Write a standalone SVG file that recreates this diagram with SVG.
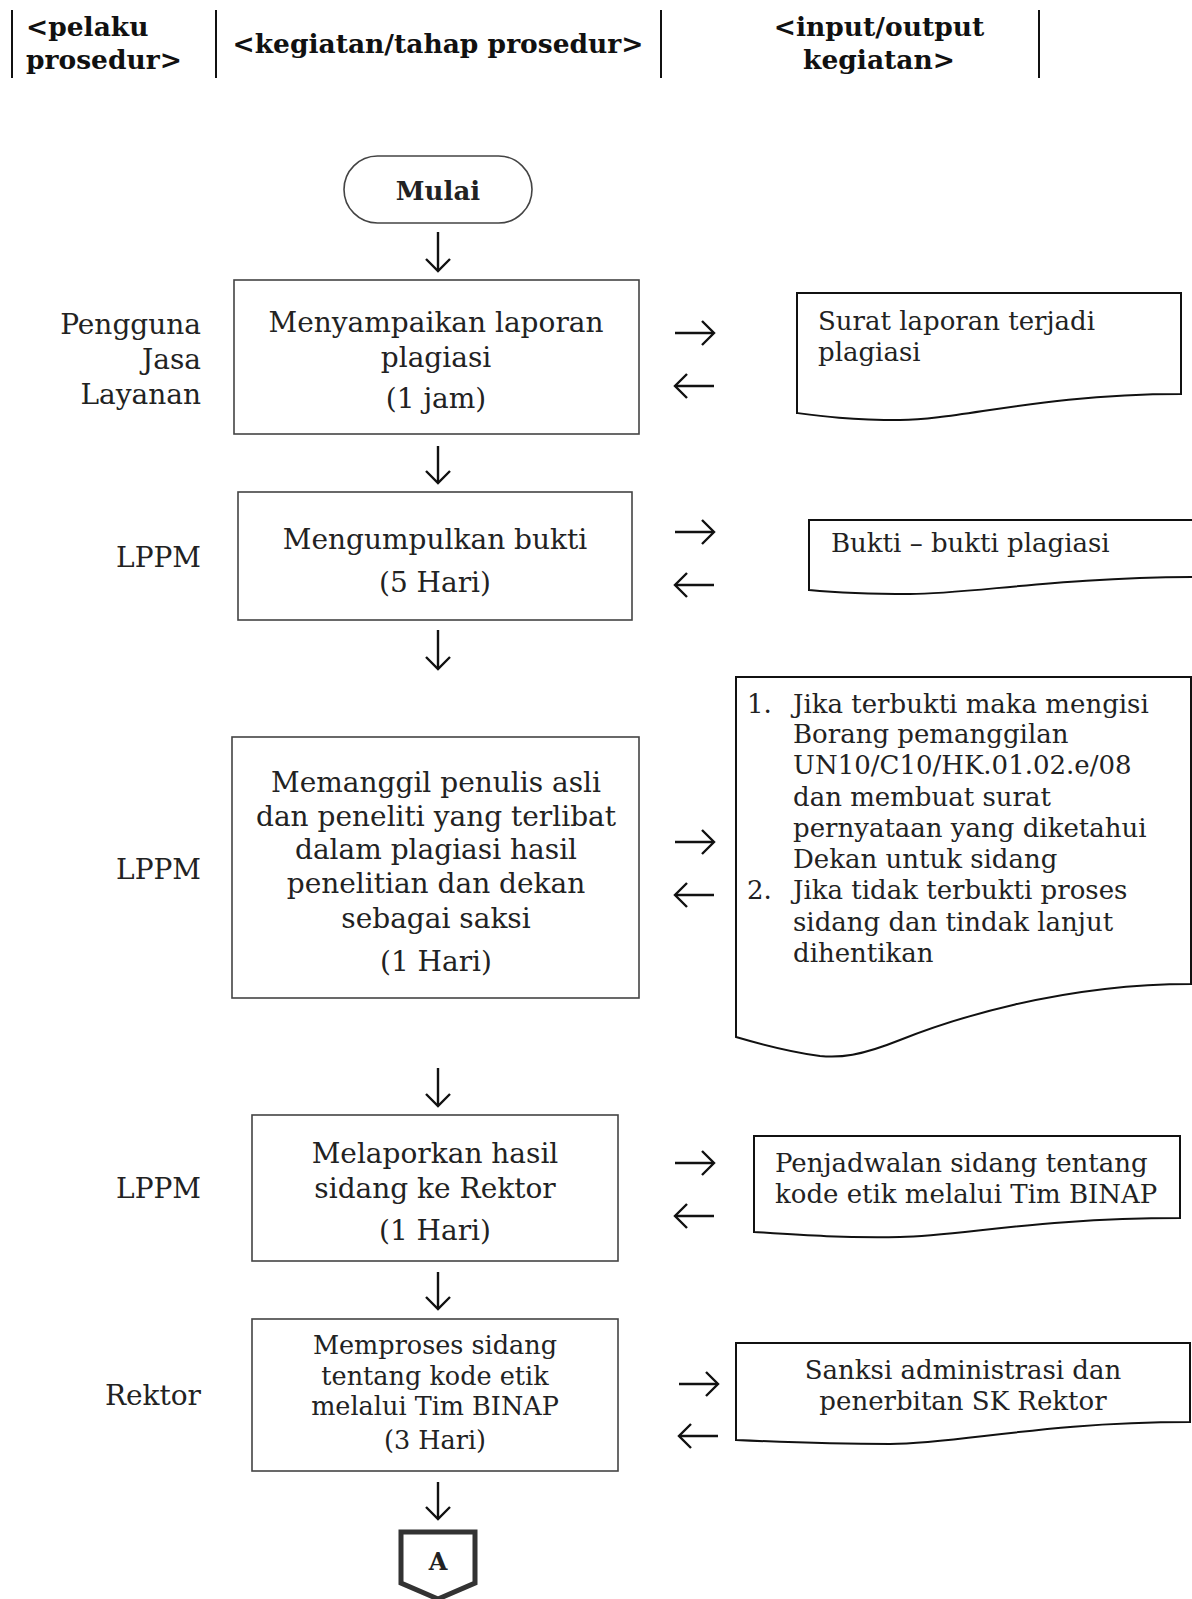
<svg xmlns="http://www.w3.org/2000/svg" width="1192" height="1599" viewBox="0 0 1192 1599">
<style>
  .hdr { font-family: "DejaVu Serif", "Liberation Serif", serif; font-weight: bold; font-size: 26.5px; fill: #111; }
  .lbl { font-family: "DejaVu Serif", "Liberation Serif", serif; font-size: 28px; fill: #222; }
  .box { fill: #fff; stroke: #444; stroke-width: 1.6; }
  .doc { fill: #fff; stroke: #111; stroke-width: 2; }
  .bt { font-family: "DejaVu Serif", "Liberation Serif", serif; font-size: 28px; fill: #222; text-anchor: middle; }
  .bt.sm { font-size: 25.5px; }
  .bt.term { font-size: 26px; font-weight: bold; }
  .bt.conn { font-size: 24px; font-weight: bold; }
  .dt { font-family: "DejaVu Serif", "Liberation Serif", serif; font-size: 26px; fill: #222; }
  .arr { stroke: #111; stroke-width: 2.4; fill: none; marker-end: url(#chev); }
  .sep { stroke: #111; stroke-width: 2; }
</style>
<defs>
  <marker id="chev" viewBox="0 0 16 28" refX="14" refY="14" markerWidth="16" markerHeight="28" markerUnits="userSpaceOnUse" orient="auto">
    <path d="M2,2 L14,14 L2,26" fill="none" stroke="#111" stroke-width="2.4"/>
  </marker>
</defs>
<rect width="1192" height="1599" fill="#fff"/>

<g id="header">
  <line class="sep" x1="12" y1="10" x2="12" y2="78"/>
  <line class="sep" x1="216" y1="10" x2="216" y2="78"/>
  <line class="sep" x1="661" y1="10" x2="661" y2="78"/>
  <line class="sep" x1="1039" y1="10" x2="1039" y2="78"/>
  <text class="hdr" x="26" y="36">&lt;pelaku</text>
  <text class="hdr" x="26" y="69">prosedur&gt;</text>
  <text class="hdr" x="438" y="53" text-anchor="middle">&lt;kegiatan/tahap prosedur&gt;</text>
  <text class="hdr" x="879" y="36" text-anchor="middle">&lt;input/output</text>
  <text class="hdr" x="879" y="69" text-anchor="middle">kegiatan&gt;</text>
</g>

<g id="actors">
  <text class="lbl" x="201" y="334" text-anchor="end">Pengguna</text>
  <text class="lbl" x="201" y="369" text-anchor="end">Jasa</text>
  <text class="lbl" x="201" y="404" text-anchor="end">Layanan</text>
  <text class="lbl" x="201" y="567" text-anchor="end">LPPM</text>
  <text class="lbl" x="201" y="879" text-anchor="end">LPPM</text>
  <text class="lbl" x="201" y="1198" text-anchor="end">LPPM</text>
  <text class="lbl" x="201" y="1405" text-anchor="end">Rektor</text>
</g>

<g id="start">
  <rect class="box" x="344" y="156" width="188" height="67" rx="33.5"/>
  <text class="bt term" x="438" y="200">Mulai</text>
</g>

<g id="step1">
  <rect class="box" x="234" y="280" width="405" height="154"/>
  <text class="bt" x="436" y="332">Menyampaikan laporan</text>
  <text class="bt" x="436" y="367">plagiasi</text>
  <text class="bt" x="436" y="408">(1 jam)</text>
</g>

<g id="step2">
  <rect class="box" x="238" y="492" width="394" height="128"/>
  <text class="bt" x="435" y="549">Mengumpulkan bukti</text>
  <text class="bt" x="435" y="592">(5 Hari)</text>
</g>

<g id="step3">
  <rect class="box" x="232" y="737" width="407" height="261"/>
  <text class="bt" x="436" y="792">Memanggil penulis asli</text>
  <text class="bt" x="436" y="826">dan peneliti yang terlibat</text>
  <text class="bt" x="436" y="859">dalam plagiasi hasil</text>
  <text class="bt" x="436" y="893">penelitian dan dekan</text>
  <text class="bt" x="436" y="928">sebagai saksi</text>
  <text class="bt" x="436" y="971">(1 Hari)</text>
</g>

<g id="step4">
  <rect class="box" x="252" y="1115" width="366" height="146"/>
  <text class="bt" x="435" y="1163">Melaporkan hasil</text>
  <text class="bt" x="435" y="1198">sidang ke Rektor</text>
  <text class="bt" x="435" y="1240">(1 Hari)</text>
</g>

<g id="step5">
  <rect class="box" x="252" y="1319" width="366" height="152"/>
  <text class="bt sm" x="435" y="1354">Memproses sidang</text>
  <text class="bt sm" x="435" y="1385">tentang kode etik</text>
  <text class="bt sm" x="435" y="1415">melalui Tim BINAP</text>
  <text class="bt sm" x="435" y="1449">(3 Hari)</text>
</g>

<g id="connectorA">
  <path d="M401,1532 H475 V1583 L438,1599 L401,1583 Z" fill="#fff" stroke="#333" stroke-width="5"/>
  <text class="bt conn" x="438" y="1570">A</text>
</g>

<g id="doc1">
  <path class="doc" d="M797,293 H1181 V394 C1040,394 960,420 900,420 C850,420 820,416 797,413 Z"/>
  <text class="dt" x="818" y="330">Surat laporan terjadi</text>
  <text class="dt" x="818" y="361">plagiasi</text>
</g>

<g id="doc2">
  <path class="doc" d="M809,520 H1200 V577 C1060,577 970,594 910,594 C860,594 830,592 809,590 Z"/>
  <text class="dt" x="831" y="552">Bukti – bukti plagiasi</text>
</g>

<g id="doc3">
  <path class="doc" d="M736,677 H1191 V984 C1060,984 950,1020 900,1040 C860,1056 840,1058 820,1056 C790,1052 760,1044 736,1037 Z"/>
  <text class="dt" x="747" y="713">1.</text>
  <text class="dt" x="793" y="713">Jika terbukti maka mengisi</text>
  <text class="dt" x="793" y="743">Borang pemanggilan</text>
  <text class="dt" x="793" y="774">UN10/C10/HK.01.02.e/08</text>
  <text class="dt" x="793" y="806">dan membuat surat</text>
  <text class="dt" x="793" y="837">pernyataan yang diketahui</text>
  <text class="dt" x="793" y="868">Dekan untuk sidang</text>
  <text class="dt" x="747" y="899">2.</text>
  <text class="dt" x="793" y="899">Jika tidak terbukti proses</text>
  <text class="dt" x="793" y="931">sidang dan tindak lanjut</text>
  <text class="dt" x="793" y="962">dihentikan</text>
</g>

<g id="doc4">
  <path class="doc" d="M754,1136 H1180 V1218 C1040,1218 960,1236 900,1237 C840,1238 800,1235 754,1232 Z"/>
  <text class="dt" x="775" y="1172">Penjadwalan sidang tentang</text>
  <text class="dt" x="775" y="1203">kode etik melalui Tim BINAP</text>
</g>

<g id="doc5">
  <path class="doc" d="M736,1343 H1190 V1422 C1040,1422 960,1444 890,1444 C830,1444 780,1442 736,1440 Z"/>
  <text class="dt" x="963" y="1379" text-anchor="middle">Sanksi administrasi dan</text>
  <text class="dt" x="963" y="1410" text-anchor="middle">penerbitan SK Rektor</text>
</g>

<g id="connectors">
  <line class="arr" x1="438" y1="232" x2="438" y2="271"/>
  <line class="arr" x1="438" y1="446" x2="438" y2="483"/>
  <line class="arr" x1="438" y1="630" x2="438" y2="669"/>
  <line class="arr" x1="438" y1="1068" x2="438" y2="1106"/>
  <line class="arr" x1="438" y1="1272" x2="438" y2="1309"/>
  <line class="arr" x1="438" y1="1482" x2="438" y2="1519"/>

  <line class="arr" x1="675" y1="333" x2="714" y2="333"/>
  <line class="arr" x1="714" y1="386" x2="675" y2="386"/>
  <line class="arr" x1="675" y1="532" x2="714" y2="532"/>
  <line class="arr" x1="714" y1="585" x2="675" y2="585"/>
  <line class="arr" x1="675" y1="842" x2="714" y2="842"/>
  <line class="arr" x1="714" y1="895" x2="675" y2="895"/>
  <line class="arr" x1="675" y1="1163" x2="714" y2="1163"/>
  <line class="arr" x1="714" y1="1216" x2="675" y2="1216"/>
  <line class="arr" x1="679" y1="1384" x2="718" y2="1384"/>
  <line class="arr" x1="718" y1="1436" x2="679" y2="1436"/>
</g>
</svg>
